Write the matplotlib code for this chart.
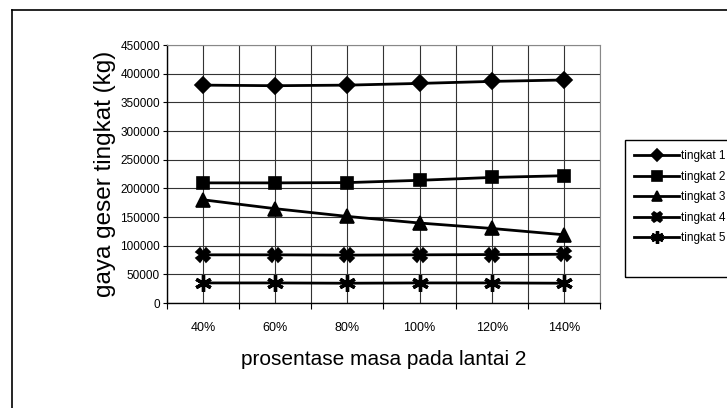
import matplotlib.pyplot as plt
from matplotlib.lines import Line2D
from matplotlib.patches import Rectangle

plt.rcParams['font.family'] = ['Liberation Sans', 'DejaVu Sans']

kategori = ["40%", "60%", "80%", "100%", "120%", "140%"]
tingkat1 = [380000, 379000, 380000, 383000, 386500, 389000]
tingkat2 = [209500, 209500, 210000, 214000, 219000, 222000]
tingkat3 = [180000, 164500, 151000, 139500, 130000, 119000]
tingkat4 = [84000, 84000, 83500, 84000, 84500, 85000]
tingkat5 = [35000, 35000, 34500, 35000, 35000, 34500]
seri = [("tingkat 1", tingkat1, "D", 8),
        ("tingkat 2", tingkat2, "s", 9),
        ("tingkat 3", tingkat3, "^", 10),
        ("tingkat 4", tingkat4, "X", 10),
        ("tingkat 5", tingkat5, (6, 2, 0), 12)]

W, H = 727, 408
fig = plt.figure(figsize=(W / 100, H / 100), dpi=100)
ax = fig.add_axes([167 / W, 1 - 303 / H, 433 / W, 258 / H])

x = list(range(len(kategori)))
handles = []
for nama, nilai, mk, ms in seri:
    h, = ax.plot(x, nilai, color="black", lw=2, marker=mk, ms=ms,
                 mfc="black", mec="black", mew=1.2 if mk != (6, 2, 0) else 2.4,
                 label=nama, zorder=3)
    handles.append(h)

ax.set_xlim(-0.5, len(kategori) - 0.5)
ax.set_ylim(0, 450000)
ax.set_yticks(range(0, 450001, 50000))
ax.set_yticklabels([str(v) for v in range(0, 450001, 50000)], fontsize=8.5)
ax.set_xticks(x)
ax.set_xticklabels(kategori, fontsize=9)
ax.set_xticks([i - 0.5 for i in range(len(kategori) + 1)], minor=True)
ax.tick_params(axis="x", which="major", length=0, pad=14)
ax.tick_params(axis="x", which="minor", length=4, width=0.8, direction="out")
ax.tick_params(axis="y", length=3, width=0.8, pad=2)

ax.grid(True, which="major", color="#333333", lw=0.8, zorder=0)
ax.grid(True, which="minor", axis="x", color="#333333", lw=0.8, zorder=0)
for s in ["top", "right"]:
    ax.spines[s].set_color("#888888")
    ax.spines[s].set_linewidth(0.8)
for s in ["left", "bottom"]:
    ax.spines[s].set_color("black")
    ax.spines[s].set_linewidth(1)

ax.set_xlabel("prosentase masa pada lantai 2", fontsize=15, labelpad=11)
ax.set_ylabel("gaya geser tingkat (kg)", fontsize=17.5, labelpad=3)

# kotak legenda
fig.patches.append(Rectangle((625 / W, 1 - 277 / H), 200 / W, 137 / H,
                             transform=fig.transFigure, fill=False,
                             ec="black", lw=1))
fig.legend(handles=handles, loc="upper left",
           bbox_to_anchor=(626 / W, 1 - 142 / H), frameon=False,
           fontsize=8.5, handlelength=3.8, handletextpad=0.15,
           labelspacing=0.72, borderpad=0.2, markerscale=0.75)

# bingkai luar
fig.add_artist(Line2D([12 / W, 12 / W], [0, 1 - 10 / H], color="black", lw=1.2,
                      transform=fig.transFigure))
fig.add_artist(Line2D([12 / W, 1], [1 - 10 / H, 1 - 10 / H], color="black", lw=1.2,
                      transform=fig.transFigure))

fig.savefig("out.png", dpi=100)
